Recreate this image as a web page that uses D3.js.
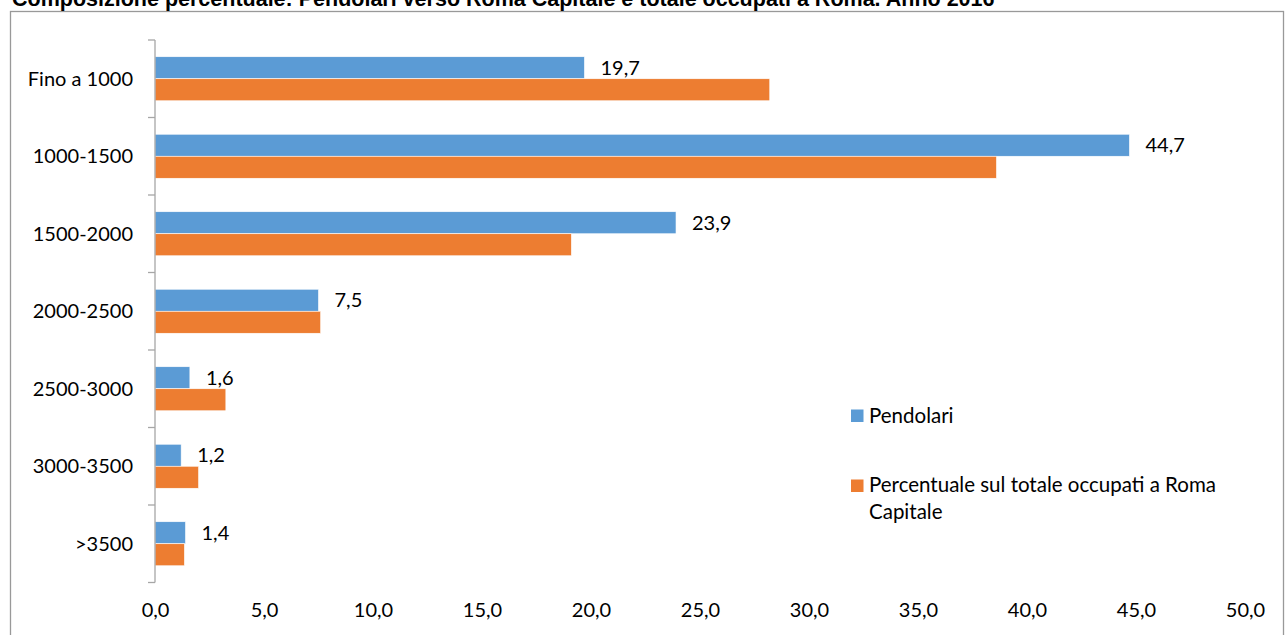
<!DOCTYPE html>
<html><head><meta charset="utf-8">
<script src="https://cdn.jsdelivr.net/npm/d3@7"></script>
<style>body{margin:0;background:#fff;overflow:hidden} svg{display:block}</style>
</head><body><svg id="c" width="1285" height="635"></svg>
<script>
const title = "Composizione percentuale: Pendolari verso Roma Capitale e totale occupati a Roma. Anno 2016";
const categories = ["Fino a 1000","1000-1500","1500-2000","2000-2500","2500-3000","3000-3500",">3500"];
const seriesNames = ["Pendolari","Percentuale sul totale occupati a Roma Capitale"];
const pendolari = [19.7,44.7,23.9,7.5,1.6,1.2,1.4];
const occupati = [28.2,38.6,19.1,7.6,3.25,2.0,1.35];
const xTicks = [0,5,10,15,20,25,30,35,40,45,50];
const colors = ["#5B9BD5","#ED7D31"];

const FONT = "Lato, 'Noto Sans', sans-serif";
const svg = d3.select("#c");

// outer chart border (extends beyond bottom of view)
svg.append("rect").attr("x",10.5).attr("y",11.5).attr("width",1273).attr("height",700)
  .attr("fill","none").attr("stroke","#999").attr("stroke-width",1.3);

// title (partially cut at the top, as in the original)
svg.append("text").attr("x",12).attr("y",6).text(title)
  .attr("font-family","'Liberation Sans', Arial, sans-serif").attr("font-weight","bold")
  .attr("font-size",21.5).attr("fill","#000");

const x = d3.scaleLinear().domain([0,50]).range([155,1245]);
const y = d3.scaleBand().domain(categories).range([40,582.5]).padding(0);
const ys = d3.scaleBand().domain(seriesNames).range([0,y.bandwidth()]).paddingInner(0).paddingOuter(0.76);

const rows = categories.map((c,i)=>({c, vals:[pendolari[i], occupati[i]]}));

// bars
const g = svg.append("g");
rows.forEach(r=>{
  r.vals.forEach((v,j)=>{
    g.append("rect")
      .attr("x",x(0)).attr("y",y(r.c)+ys(seriesNames[j]))
      .attr("width",x(v)-x(0)).attr("height",ys.bandwidth())
      .attr("fill",colors[j]).attr("stroke","#fff").attr("stroke-width",0.6);
  });
});

// data labels (Pendolari only)
svg.append("g").selectAll("text").data(rows).join("text")
  .attr("x",d=>x(d.vals[0])+16)
  .attr("y",d=>y(d.c)+ys(seriesNames[0])+ys.bandwidth()/2)
  .attr("dy","0.36em")
  .attr("font-family",FONT).attr("font-size",20).attr("fill","#000")
  .text(d=>d.vals[0].toFixed(1).replace(".",","));

// y axis
const yAxis = svg.append("g").attr("transform",`translate(${x(0)},0)`)
  .call(d3.axisLeft(y).tickSize(0).tickPadding(22));
yAxis.select(".domain").remove();
yAxis.selectAll("text").attr("font-family",FONT).attr("font-size",20).attr("fill","#000").attr("dy","0.34em");
const bounds = categories.map(c=>y(c)).concat([y.range()[1]]);
svg.append("line").attr("x1",x(0)).attr("x2",x(0)).attr("y1",y.range()[0]).attr("y2",y.range()[1])
  .attr("stroke","#a6a6a6").attr("stroke-width",1.3);
svg.append("g").selectAll("line").data(bounds).join("line")
  .attr("x1",x(0)-7).attr("x2",x(0)).attr("y1",d=>d).attr("y2",d=>d)
  .attr("stroke","#a6a6a6").attr("stroke-width",1.3);

// x axis labels
const xAxis = svg.append("g").attr("transform","translate(0,0)")
  .call(d3.axisBottom(x).tickValues(xTicks).tickSize(0).tickFormat(d=>d.toFixed(1).replace(".",",")));
xAxis.select(".domain").remove();
xAxis.selectAll("text").attr("y",617).attr("dy",null)
  .attr("font-family",FONT).attr("font-size",20).attr("fill","#000");

// legend
const leg = svg.append("g");
const legY = [416, 486];
seriesNames.forEach((n,i)=>{
  leg.append("rect").attr("x",851).attr("y",legY[i]-6.5).attr("width",12.5).attr("height",12.5).attr("fill",colors[i]);
});
leg.append("text").attr("x",869).attr("y",423).attr("font-family",FONT).attr("font-size",20.5).attr("fill","#000").text("Pendolari");
const t2 = leg.append("text").attr("x",869).attr("y",492).attr("font-family",FONT).attr("font-size",20.5).attr("fill","#000");
t2.append("tspan").attr("x",869).text("Percentuale sul totale occupati a Roma");
t2.append("tspan").attr("x",869).attr("dy",26.5).text("Capitale");
</script></body></html>
